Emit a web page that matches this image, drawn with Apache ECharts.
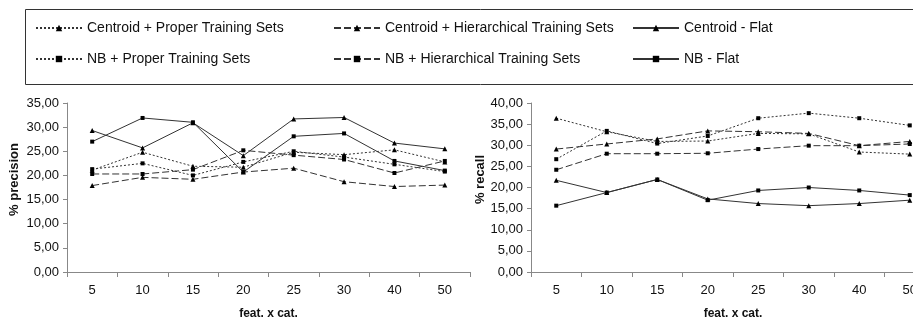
<!DOCTYPE html>
<html><head><meta charset="utf-8">
<script src="https://cdn.jsdelivr.net/npm/echarts@6/dist/echarts.min.js"></script>
<style>html,body{margin:0;padding:0;background:#fff;overflow:hidden;width:913px;height:325px}#c{width:940px;height:325px}</style>
</head><body><div id="c"></div>
<script>
var categories = ['5','10','15','20','25','30','40','50'];
var seriesNames = ['Centroid + Proper Training Sets','Centroid + Hierarchical Training Sets','Centroid - Flat','NB + Proper Training Sets','NB + Hierarchical Training Sets','NB - Flat'];

// % precision (left)
var precCentroidProper = [21.1, 24.8, 21.9, 21.7, 24.8, 24.3, 25.3, 22.8];
var precCentroidHier   = [17.9, 19.6, 19.2, 20.7, 21.5, 18.7, 17.7, 18.0];
var precCentroidFlat   = [29.3, 25.7, 30.9, 24.1, 31.7, 32.0, 26.7, 25.5];
var precNBProper       = [21.3, 22.5, 20.0, 22.8, 25.0, 23.8, 22.3, 20.8];
var precNBHier         = [20.3, 20.3, 21.2, 25.2, 24.2, 23.3, 20.5, 23.0];
var precNBFlat         = [27.0, 31.9, 31.0, 20.7, 28.1, 28.7, 23.0, 21.0];

// % recall (right)
var recCentroidProper = [36.4, 33.2, 30.9, 31.0, 32.8, 32.7, 28.4, 27.9];
var recCentroidHier   = [29.1, 30.3, 31.5, 33.4, 33.2, 32.8, 29.9, 30.9];
var recCentroidFlat   = [21.7, 18.8, 21.9, 17.3, 16.2, 15.7, 16.2, 17.0];
var recNBProper       = [26.7, 33.4, 30.4, 32.2, 36.4, 37.6, 36.4, 34.7];
var recNBHier         = [24.2, 28.0, 28.0, 28.1, 29.1, 29.9, 29.9, 30.3];
var recNBFlat         = [15.7, 18.8, 21.9, 17.0, 19.3, 20.0, 19.3, 18.2];

var precData = [precCentroidProper, precCentroidHier, precCentroidFlat, precNBProper, precNBHier, precNBFlat];
var recData  = [recCentroidProper, recCentroidHier, recCentroidFlat, recNBProper, recNBHier, recNBFlat];

var styles = [
  {symbol:'triangle', size:5, type:[2,2]},
  {symbol:'triangle', size:5, type:[7,3]},
  {symbol:'triangle', size:5, type:'solid'},
  {symbol:'rect', size:4, type:[2,2]},
  {symbol:'rect', size:4, type:[7,3]},
  {symbol:'rect', size:4, type:'solid'}
];

var font = 'Liberation Sans, Arial, sans-serif';
function fmt(v){ return v.toFixed(2).replace('.', ','); }

function xAx(gi){
  return {
    gridIndex: gi, type:'category', data: categories, boundaryGap:true,
    axisLine:{lineStyle:{color:'#888'}},
    axisTick:{show:true, length:5, lineStyle:{color:'#888'}},
    axisLabel:{color:'#111', fontSize:13, margin:12, fontFamily:font},
    name:'feat. x cat.', nameLocation:'middle', nameGap:36,
    nameTextStyle:{color:'#111', fontWeight:'bold', fontSize:12, fontFamily:font}
  };
}
function yAx(gi, max, name, gap){
  return {
    gridIndex: gi, type:'value', min:0, max:max, interval:5,
    axisLine:{show:true, lineStyle:{color:'#888'}},
    axisTick:{show:true, length:4, lineStyle:{color:'#888'}},
    splitLine:{show:false},
    axisLabel:{color:'#111', fontSize:13, margin:8, fontFamily:font, formatter:fmt},
    name:name, nameLocation:'middle', nameGap:gap,
    nameTextStyle:{color:'#111', fontWeight:'bold', fontSize:13, fontFamily:font, padding:[0,0,0,16]}
  };
}

var series = [];
[precData, recData].forEach(function(set, gi){
  set.forEach(function(d, i){
    var s = styles[i];
    series.push({
      type:'line', name: seriesNames[i], xAxisIndex: gi, yAxisIndex: gi,
      data: d, symbol: s.symbol, symbolSize: s.size, showSymbol:true,
      itemStyle:{color:'#000'},
      lineStyle:{color:'#333', width:1, type:s.type},
      animation:false
    });
  });
});

function leg(names, left, w){
  return {
    data:names, orient:'vertical', left:left, top:21, itemGap:17, padding:0,
    itemWidth:w, itemHeight:8, itemStyle:{color:'#000'},
    textStyle:{color:'#111', fontSize:14, fontFamily:font},
    selectedMode:false
  };
}

var chart = echarts.init(document.getElementById('c'), null, {renderer:'canvas'});
chart.setOption({
  animation:false,
  backgroundColor:'#fff',
  graphic:[{type:'rect', shape:{x:25.5, y:9.5, width:910, height:75}, style:{fill:'none', stroke:'#333', lineWidth:1}}],
  legend:[
    leg([seriesNames[0], seriesNames[3]], 35, 46),
    leg([seriesNames[1], seriesNames[4]], 333, 46),
    leg([seriesNames[2], seriesNames[5]], 632, 46)
  ],
  grid:[
    {left:67, width:403, top:103, bottom:47},
    {left:531, width:404, top:103, bottom:47}
  ],
  xAxis:[xAx(0), xAx(1)],
  yAxis:[yAx(0, 35, '% precision', 46), yAx(1, 40, '% recall', 43)],
  series: series
});
</script></body></html>
